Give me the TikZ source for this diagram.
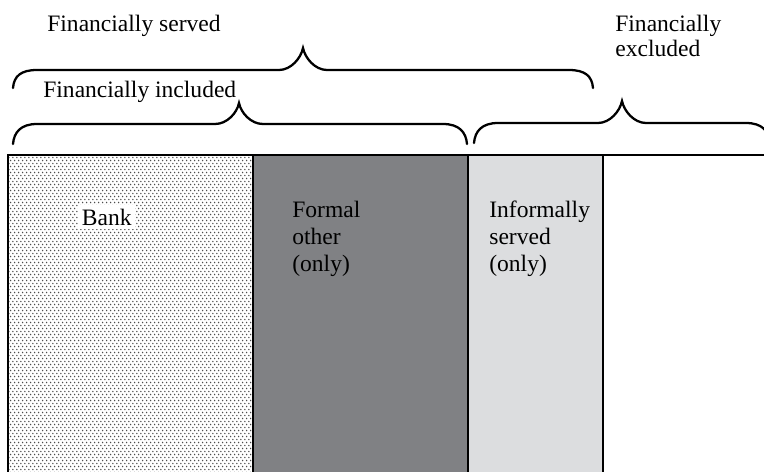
\documentclass[tikz,border=0pt]{standalone}
\usepackage{fontspec}
\setmainfont{Liberation Serif}
\usetikzlibrary{patterns.meta}

\definecolor{formalgray}{RGB}{128,129,132}
\definecolor{informalgray}{RGB}{220,221,223}

\tikzdeclarepattern{
	name=bankdots,
	type=uncolored,
	bottom left={(0pt,0pt)},
	top right={(2.4pt,3.4pt)},
	tile size={(2.4pt,3.4pt)},
	code={
		\fill (0.6pt,0.85pt) circle (0.5pt);
		\fill (1.8pt,2.55pt) circle (0.5pt);
	}
}

\tikzset{
	bracestyle/.style={line width=1.3pt, line cap=round},
	column/.style={line width=0.6pt},
	labeltext/.style={inner sep=0pt, align=left, anchor=north west}
}

% curly brace: x-left, x-right, x-tip, y-ends, y-flat, y-tip
\newcommand{\curlybrace}[6]{%
	\draw[bracestyle] (#1,#4) .. controls (#1+1,#4-12) and (#1+8,#5) .. (#1+24,#5)
		-- (#3-24,#5) .. controls (#3-12,#5) and (#3-2,#6+10) .. (#3,#6)
		.. controls (#3+2,#6+10) and (#3+12,#5) .. (#3+24,#5)
		-- (#2-24,#5) .. controls (#2-8,#5) and (#2-1,#4-12) .. (#2,#4);}

\begin{document}
\begin{tikzpicture}[x=0.02cm, y=-0.02cm, font=\fontsize{13.4pt}{15.3pt}\selectfont]
	\clip (0,0) rectangle (764,471);

	\draw[column, pattern=bankdots, pattern color=black!70] (8,155) rectangle (253,480);
	\draw[column, fill=formalgray] (253,155) rectangle (468,480);
	\draw[column, fill=informalgray] (468,155) rectangle (603,480);
	\draw[column] (603,155) rectangle (780,480);

	\curlybrace{13}{593}{303}{88}{70}{48}
	\curlybrace{13}{467}{239}{144}{124}{103}
	\curlybrace{474}{770}{622}{143}{123}{101}

	\node[labeltext] (served) at (47,15) {Financially served};
	\node[labeltext] (included) at (43,81) {Financially included};
	\node[labeltext, font=\fontsize{13.4pt}{14.2pt}\selectfont] (excluded) at (615,15) {Financially\\excluded};

	\node[fill=white, inner sep=2pt, anchor=base west] (bank) at (78,225) {Bank};
	\node[labeltext] (formal) at (292,201) {Formal\\other\\(only)};
	\node[labeltext] (informal) at (489,201) {Informally\\served\\(only)};
\end{tikzpicture}
\end{document}
